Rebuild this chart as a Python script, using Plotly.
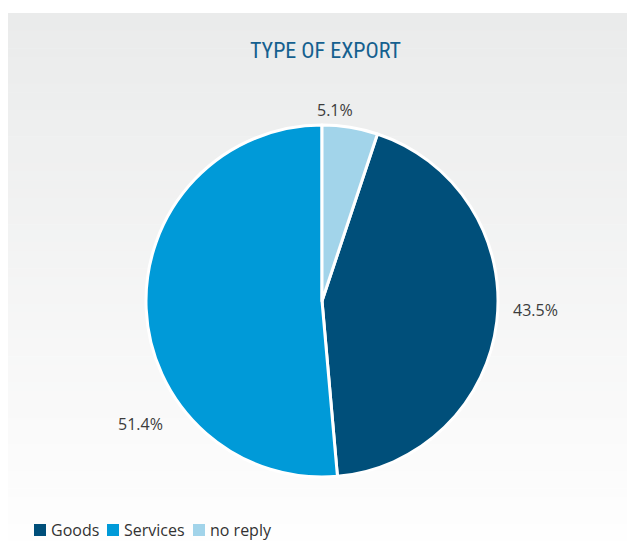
import plotly.graph_objects as go

# Share of respondents by type of export (%)
categories = ["Goods", "Services", "no reply"]
shares = [43.5, 51.4, 5.1]
colors = ["#004f7a", "#009ad8", "#a2d4ea"]
title_text = "TYPE OF EXPORT"

W, H = 627, 541
TEXT_FONT = "'Open Sans', 'Noto Sans', sans-serif"
TITLE_FONT = ("'Roboto Condensed', 'Noto Sans Condensed', 'Open Sans Condensed', "
              "'Liberation Sans Narrow', 'DejaVu Sans Condensed', Roboto, sans-serif")

fig = go.Figure()

# Pie: slices run clockwise, "no reply" ends at 12 o'clock
start_angle = shares[categories.index("no reply")] / 100 * 360
cx, cy, rad = 322, 301, 176
fig.add_trace(go.Pie(
    labels=categories,
    values=shares,
    sort=False,
    direction="clockwise",
    rotation=start_angle,
    marker=dict(colors=colors, line=dict(color="#ffffff", width=3)),
    textinfo="none",
    hoverinfo="label+percent",
    showlegend=False,
    domain=dict(x=[(cx - rad) / W, (cx + rad) / W],
                y=[1 - (cy + rad) / H, 1 - (cy - rad) / H]),
))

# Background panel: light grey fading to white towards the bottom
shapes = []
bands = 60
top_px, bot_px = 13, H
c0 = (234, 235, 235)
c1 = (254, 254, 254)
for i in range(bands):
    t = i / (bands - 1)
    r = round(c0[0] + (c1[0] - c0[0]) * t)
    g = round(c0[1] + (c1[1] - c0[1]) * t)
    b = round(c0[2] + (c1[2] - c0[2]) * t)
    y0 = top_px + (bot_px - top_px) * i / bands
    y1 = top_px + (bot_px - top_px) * (i + 1) / bands + 0.5
    shapes.append(dict(
        type="rect", xref="paper", yref="paper", layer="below",
        x0=8 / W, x1=1, y0=1 - y1 / H, y1=1 - y0 / H,
        fillcolor=f"rgb({r},{g},{b})", line=dict(width=0),
    ))

annotations = [dict(
    text=title_text, x=325 / W, y=1 - 51 / H, xref="paper", yref="paper",
    showarrow=False, xanchor="center", yanchor="middle",
    font=dict(family=TITLE_FONT, size=22, color="#15608f"),
)]

# Percentage labels next to each slice
label_pos = {"no reply": (335, 110), "Goods": (535, 310), "Services": (140, 424)}
for cat, val in zip(categories, shares):
    px, py = label_pos[cat]
    annotations.append(dict(
        text=f"{val:.1f}%", x=px / W, y=1 - py / H, xref="paper", yref="paper",
        showarrow=False, xanchor="center", yanchor="middle",
        font=dict(family=TEXT_FONT, size=16, color="#3c3c3c"),
    ))

# Legend row along the bottom edge: colour square followed by its name
legend_x = {"Goods": 34, "Services": 107, "no reply": 193}
sq = 12
base = 536
for cat, col in zip(categories, colors):
    x0 = legend_x[cat]
    shapes.append(dict(
        type="rect", xref="paper", yref="paper",
        x0=x0 / W, x1=(x0 + sq) / W, y0=1 - base / H, y1=1 - (base - sq) / H,
        fillcolor=col, line=dict(width=0),
    ))
    annotations.append(dict(
        text=cat, x=(x0 + sq + 3) / W, y=1 - (base - 6) / H, xref="paper", yref="paper",
        showarrow=False, xanchor="left", yanchor="middle",
        font=dict(family=TEXT_FONT, size=16, color="#333333"),
    ))

fig.update_layout(
    width=W, height=H,
    margin=dict(l=0, r=0, t=0, b=0),
    paper_bgcolor="#ffffff",
    plot_bgcolor="#ffffff",
    shapes=shapes,
    annotations=annotations,
    showlegend=False,
)

fig.write_html("out.html")
